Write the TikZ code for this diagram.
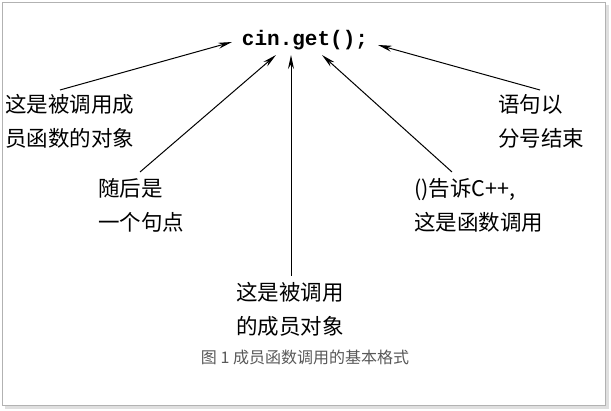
\documentclass[tikz,border=0pt]{standalone}
\usepackage{fontspec}
\newfontfamily\cjk{Noto Sans CJK SC}
\newfontfamily\mono{Liberation Mono}
\usetikzlibrary{arrows.meta}
\begin{document}
\begin{tikzpicture}[x=1pt,y=-1pt,
  lab/.style={font=\cjk\fontsize{21.5}{34}\selectfont,align=left,inner sep=0pt},
  arr/.style={-{Stealth[length=14pt,width=6pt]},line width=1pt}]
\useasboundingbox (0,0) rectangle (611,411);
\fill[gray!25] (5,5) rectangle (609,409);
\draw[gray!60,fill=white] (2,2) rectangle (605,405);
\node[inner sep=1pt,font=\mono\bfseries\fontsize{21}{22}\selectfont] (c) at (305,40) {cin.get();};
\node[lab,anchor=north west] (a) at (5,94) {这是被调用成\\员函数的对象};
\node[lab,anchor=north west] (b) at (98,178) {随后是\\一个句点};
\node[lab,anchor=north west] (d) at (236,282) {这是被调用\\的成员对象};
\node[lab,anchor=north west] (e) at (414,178) {()告诉C++,\\这是函数调用};
\node[lab,anchor=north west] (f) at (498,94) {语句以\\分号结束};
\node[font=\cjk\fontsize{16}{18}\selectfont,text=gray!70!black] (cap) at (305,357) {图 1 成员函数调用的基本格式};
\coordinate (ta) at (232,42);
\coordinate (tb) at (276,55);
\coordinate (td) at (291,55);
\coordinate (te) at (322,55);
\coordinate (tf) at (378,45);
\draw[arr] (60,90) -- (ta);
\draw[arr] (140,172) -- (tb);
\draw[arr] (291,276) -- (td);
\draw[arr] (452,172) -- (te);
\draw[arr] (540,90) -- (tf);
\end{tikzpicture}
\end{document}
